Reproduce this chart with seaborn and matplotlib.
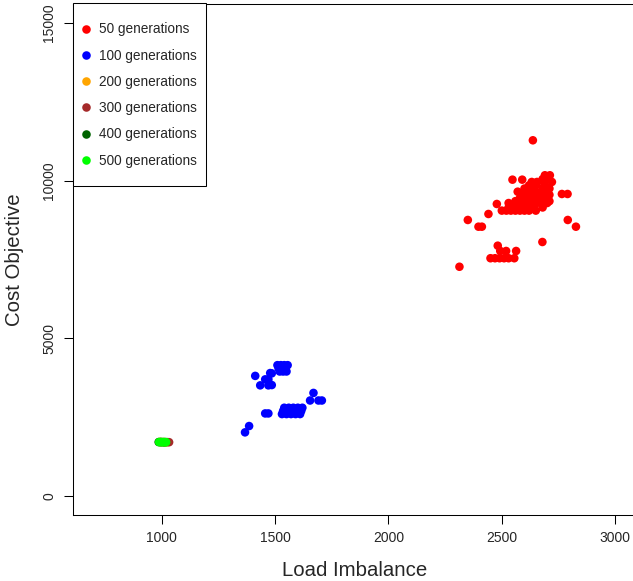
import numpy as np
import pandas as pd
import matplotlib
matplotlib.use("Agg")
import matplotlib.pyplot as plt
from matplotlib.patches import Rectangle
import seaborn as sns

# ---- data ----
gen50_x = [2500, 2520, 2540, 2560, 2580, 2600, 2620, 2650,
           2530, 2560, 2590, 2610, 2640, 2680,
           2478, 2530, 2560, 2590, 2620, 2655, 2700,
           2560, 2600, 2640, 2680, 2710,
           2580, 2620, 2660, 2700,
           2590, 2630, 2670, 2710, 2765, 2790,
           2570, 2610, 2650, 2690,
           2600, 2640, 2680, 2710,
           2620, 2650, 2690,
           2632, 2655, 2684, 2721,
           2547, 2590, 2680, 2700,
           2690, 2712,
           2637,
           2441, 2350, 2397, 2412, 2791, 2827, 2679, 2313,
           2482, 2493, 2519, 2563, 2450, 2470, 2490, 2510, 2530, 2555]
gen50_y = [9050, 9050, 9050, 9050, 9050, 9050, 9050, 9050,
           9150, 9150, 9150, 9150, 9150, 9150,
           9260, 9290, 9290, 9290, 9290, 9290, 9290,
           9350, 9350, 9350, 9350, 9350,
           9450, 9450, 9450, 9450,
           9550, 9550, 9550, 9550, 9577, 9577,
           9650, 9650, 9650, 9650,
           9750, 9750, 9750, 9750,
           9850, 9850, 9850,
           9958, 9958, 9958, 9958,
           10031, 10031, 10050, 10050,
           10170, 10170,
           11279,
           8943, 8753, 8540, 8540, 8753, 8540, 8055, 7270,
           7938, 7770, 7770, 7770, 7540, 7540, 7540, 7540, 7540, 7540]

gen100_x = [1510, 1525, 1540, 1555, 1515, 1530, 1545, 1520, 1535, 1550,
            1412, 1456, 1470, 1478, 1485, 1434, 1470, 1485,
            1540, 1560, 1580, 1600, 1620, 1535, 1555, 1575, 1595, 1615,
            1530, 1550, 1570, 1590, 1610,
            1669, 1654, 1691, 1706,
            1456, 1470, 1385, 1367]
gen100_y = [4150, 4150, 4150, 4150, 4050, 4050, 4050, 3950, 3950, 3950,
            3810, 3700, 3700, 3900, 3890, 3510, 3510, 3520,
            2800, 2800, 2800, 2800, 2800, 2700, 2700, 2700, 2700, 2700,
            2600, 2600, 2600, 2600, 2600,
            3270, 3030, 3030, 3030,
            2620, 2620, 2220, 2020]

gen200_x = [990, 1000, 1010, 1020]
gen200_y = [1715, 1712, 1710, 1708]
gen300_x = [995, 1010, 1025, 1032]
gen300_y = [1712, 1710, 1710, 1708]
gen400_x = [986, 995, 1005, 1015]
gen400_y = [1712, 1712, 1710, 1710]
gen500_x = [988, 995, 1000, 1005, 1010, 1015, 1019]
gen500_y = [1712, 1712, 1712, 1711, 1711, 1710, 1710]

labels = ["50 generations", "100 generations", "200 generations",
          "300 generations", "400 generations", "500 generations"]
colors = ["#FF0000", "#0000FF", "#FFA500", "#A52A2A", "#006400", "#00FF00"]

xticks = [1000, 1500, 2000, 2500, 3000]
yticks = [0, 5000, 10000, 15000]

# ---- build table ----
series = [(gen50_x, gen50_y), (gen100_x, gen100_y), (gen200_x, gen200_y),
          (gen300_x, gen300_y), (gen400_x, gen400_y), (gen500_x, gen500_y)]
frames = []
for lab, (xs, ys) in zip(labels, series):
    frames.append(pd.DataFrame({"Load Imbalance": xs, "Cost Objective": ys, "gen": lab}))
df = pd.concat(frames, ignore_index=True)

sns.set_style("white")
plt.rcParams['font.family'] = ['Liberation Sans', 'DejaVu Sans']

W, H = 633, 581
fig = plt.figure(figsize=(W / 100, H / 100), dpi=100)
ax_left, ax_right, ax_top, ax_bottom = 73, 636, 4, 515
ax_w, ax_h = ax_right - ax_left, ax_bottom - ax_top
ax = fig.add_axes([ax_left / W, (H - ax_bottom) / H, ax_w / W, ax_h / H])

palette = dict(zip(labels, colors))
sns.scatterplot(data=df, x="Load Imbalance", y="Cost Objective", hue="gen",
                hue_order=labels, palette=palette, s=38, linewidth=0,
                ax=ax, legend=True, zorder=3)

ax.set_xlim(608, 3092)
ax.set_ylim(-600, 15600)
ax.set_xticks(xticks)
ax.set_yticks(yticks)
ax.set_xticklabels([str(v) for v in xticks], fontsize=10)
ax.set_yticklabels([str(v) for v in yticks], fontsize=10, rotation=90, va='center')
ax.tick_params(axis='both', direction='out', length=6.5, width=0.75, color='black',
               left=True, bottom=True)
ax.tick_params(axis='x', pad=5)
ax.tick_params(axis='y', pad=5.5)
for side in ['left', 'bottom', 'top', 'right']:
    ax.spines[side].set_color('black')
    ax.spines[side].set_linewidth(0.75)
ax.grid(False)

ax.set_xlabel("Load Imbalance", fontsize=14.7, labelpad=11.5)
ax.set_ylabel("Cost Objective", fontsize=14.7, labelpad=13.5)

# legend box (R style): frame drawn as a rectangle, entries placed inside
frame_l, frame_r, frame_t, frame_b = 73, 206, 3, 186
ax.add_patch(Rectangle(((frame_l - ax_left) / ax_w, (ax_bottom - frame_b) / ax_h),
                       (frame_r - frame_l) / ax_w, (frame_b - frame_t) / ax_h,
                       transform=ax.transAxes, facecolor='white', edgecolor='black',
                       linewidth=0.75, zorder=4, clip_on=False))
handles, labs = ax.get_legend_handles_labels()
anchor_x = (86 - ax_left) / ax_w
anchor_y = (ax_bottom - 22.3) / ax_h
leg = ax.legend(handles, labs, loc='upper left', bbox_to_anchor=(anchor_x, anchor_y),
                borderaxespad=0, fontsize=9.8, frameon=False,
                borderpad=0, handlelength=0, handletextpad=0.94,
                labelspacing=0.9, markerscale=1.0)
leg.set_zorder(5)

fig.savefig("out.png", dpi=100)
